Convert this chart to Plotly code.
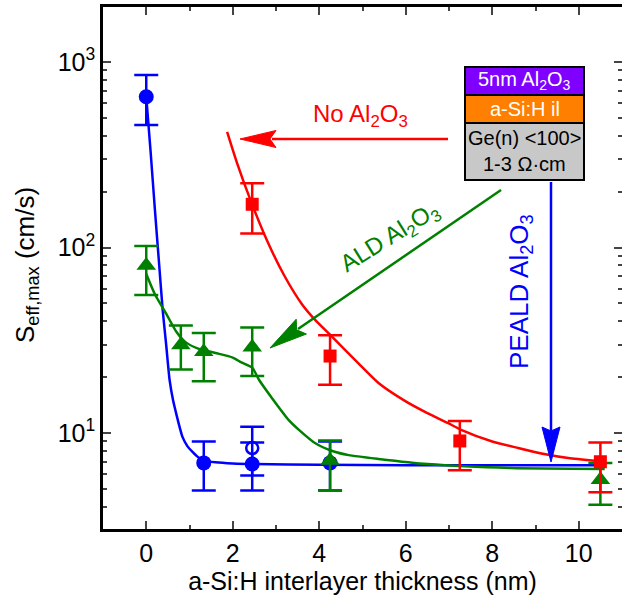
import plotly.graph_objects as go

# ---------------- data ----------------
# PEALD Al2O3 (blue circles)
peald_x = [0, 1.33, 2.45, 4.25]
peald_y = [650, 6.9, 6.8, 6.9]
peald_hi = [850, 9.0, 8.9, 9.0]
peald_lo = [457, 4.9, 4.9, 4.9]
# open circle
peald_open_x = [2.45]
peald_open_y = [8.3]
peald_open_hi = [10.8]
peald_open_lo = [5.9]

# ALD Al2O3 (green triangles)
ald_x = [0, 0.8, 1.33, 2.45, 4.25, 10.5]
ald_y = [80, 29.8, 27.4, 29, 7.1, 5.6]
ald_hi = [102, 38, 34.6, 37, 9.1, 6.9]
ald_lo = [55.5, 22, 19, 20.3, 4.9, 4.1]

# No Al2O3 (red squares)
no_x = [2.45, 4.25, 7.25, 10.5]
no_y = [171, 26, 9.06, 7.0]
no_hi = [222, 33.7, 11.6, 8.9]
no_lo = [119, 18.2, 6.3, 4.8]

# fit curves
peald_fit_x = [0, 0.1, 0.2, 0.3, 0.38, 0.46, 0.54, 0.62, 0.69, 0.77, 0.84, 0.95, 1.07, 1.2, 1.34, 1.6, 2.0, 2.5, 4.0, 6.0, 8.0, 10.5]
peald_fit_y = [650, 330, 160, 80, 46, 30, 19.3, 15, 12.8, 10.8, 9.5, 8.5, 7.9, 7.4, 7.1, 6.95, 6.85, 6.8, 6.75, 6.7, 6.7, 6.7]

ald_fit_x = [0, 0.2, 0.46, 0.7, 0.9, 1.2, 1.6, 2.0, 2.2, 2.45, 2.61, 2.9, 3.3, 3.53, 3.91, 4.3, 4.68, 5.37, 6.5, 8.43, 10.6]
ald_fit_y = [72, 56, 44, 35, 31, 28.5, 27, 25.5, 24, 22.5, 19.3, 15.5, 11.7, 10.4, 8.8, 8.0, 7.6, 7.25, 6.8, 6.47, 6.4]

no_fit_x = [1.87, 2.1, 2.43, 2.8, 3.2, 3.6, 3.91, 4.3, 4.9, 5.37, 6.0, 6.5, 6.98, 7.28, 8.0, 8.6, 9.2, 9.8, 10.6]
no_fit_y = [420, 285, 175, 108, 70, 49.5, 40.6, 33, 23.8, 18.6, 14.8, 12.8, 11.3, 10.4, 9.0, 8.3, 7.7, 7.3, 7.0]

x_tickvals = [0, 2, 4, 6, 8, 10]
y_tickvals = [10, 100, 1000]
y_ticktext = ["10<sup>1</sup>", "10<sup>2</sup>", "10<sup>3</sup>"]

BLUE = "#0000FF"
GREEN = "#008000"
RED = "#FF0000"
FONT = "Liberation Sans, Arial, sans-serif"

W, H = 622, 606
L, R, T, B = 103, 0, 7, 77
PW, PH = W - L - R, H - T - B


def px(x):
    return (x - L) / PW


def py(y):
    return (H - B - y) / PH


def err(y, hi, lo):
    return dict(type="data", symmetric=False,
                array=[h - v for h, v in zip(hi, y)],
                arrayminus=[v - l for v, l in zip(y, lo)])


fig = go.Figure()

fig.add_trace(go.Scatter(x=peald_fit_x, y=peald_fit_y, mode="lines",
                         line=dict(color=BLUE, width=2.5, shape="spline", smoothing=0.6),
                         showlegend=False, hoverinfo="skip"))
fig.add_trace(go.Scatter(x=ald_fit_x, y=ald_fit_y, mode="lines",
                         line=dict(color=GREEN, width=2.5, shape="spline", smoothing=0.6),
                         showlegend=False, hoverinfo="skip"))
fig.add_trace(go.Scatter(x=no_fit_x, y=no_fit_y, mode="lines",
                         line=dict(color=RED, width=2.5, shape="spline", smoothing=0.6),
                         showlegend=False, hoverinfo="skip"))

e = err(peald_open_y, peald_open_hi, peald_open_lo)
e.update(color=BLUE, thickness=2.5, width=12)
fig.add_trace(go.Scatter(x=peald_open_x, y=peald_open_y, mode="markers",
                         marker=dict(symbol="circle", size=12, color="white",
                                     line=dict(color=BLUE, width=2.5)),
                         error_y=e, showlegend=False))

e = err(peald_y, peald_hi, peald_lo)
e.update(color=BLUE, thickness=2.5, width=12)
fig.add_trace(go.Scatter(x=peald_x, y=peald_y, mode="markers",
                         marker=dict(symbol="circle", size=15, color=BLUE),
                         error_y=e, showlegend=False))

e = err(ald_y, ald_hi, ald_lo)
e.update(color=GREEN, thickness=2.5, width=12)
fig.add_trace(go.Scatter(x=ald_x, y=ald_y, mode="markers",
                         marker=dict(symbol="triangle-up", size=17, color=GREEN),
                         error_y=e, showlegend=False))

e = err(no_y, no_hi, no_lo)
e.update(color=RED, thickness=2.5, width=12)
fig.add_trace(go.Scatter(x=no_x, y=no_y, mode="markers",
                         marker=dict(symbol="square", size=13, color=RED),
                         error_y=e, showlegend=False))

shapes = []
annotations = []


def line_px(x0, y0, x1, y1, color, width=2.5):
    shapes.append(dict(type="line", xref="paper", yref="paper",
                       x0=px(x0), y0=py(y0), x1=px(x1), y1=py(y1),
                       line=dict(color=color, width=width)))


def poly_px(pts, color):
    d = "M " + " L ".join(f"{px(a):.5f} {py(b):.5f}" for a, b in pts) + " Z"
    shapes.append(dict(type="path", xref="paper", yref="paper", path=d,
                       fillcolor=color, line=dict(color=color, width=1)))


def text_px(x, y, text, color, size, angle=0):
    annotations.append(dict(xref="paper", yref="paper", x=px(x), y=py(y),
                            text=text, showarrow=False, textangle=angle,
                            xanchor="center", yanchor="middle",
                            font=dict(color=color, size=size, family=FONT)))


# red arrow
line_px(448, 139, 272, 139, RED)
poly_px([(240, 139), (276, 130.5), (270, 139), (276, 147.5)], RED)
# green arrow
line_px(501, 190, 298, 329, GREEN)
poly_px([(270, 348), (306.4, 334.0), (296.6, 329.8), (296.2, 319.2)], GREEN)
# blue arrow
line_px(551, 182, 551, 432, BLUE)
poly_px([(551, 462), (542, 427), (551, 431), (560, 427)], BLUE)

text_px(360, 116, "No Al<sub>2</sub>O<sub>3</sub>", RED, 24)
text_px(391, 238, "ALD Al<sub>2</sub>O<sub>3</sub>", GREEN, 24, -32)
text_px(521, 292, "PEALD Al<sub>2</sub>O<sub>3</sub>", BLUE, 26, -90)

# layer stack box
boxes = [(67, 95, "#7F00FF"), (95, 123, "#FF8000"), (123, 180, "#C8C8C8")]
for y0, y1, c in boxes:
    shapes.append(dict(type="rect", xref="paper", yref="paper",
                       x0=px(465), x1=px(584), y0=py(y1), y1=py(y0),
                       fillcolor=c, line=dict(color="black", width=2)))
text_px(524.5, 81, "5nm Al<sub>2</sub>O<sub>3</sub>", "white", 20)
text_px(524.5, 109, "a-Si:H il", "white", 20)
text_px(524.5, 138, "Ge(n) &lt;100&gt;", "black", 20)
text_px(524.5, 164, "1-3 Ω·cm", "black", 20)

# y title
text_px(26, 265, "S<sub>eff,max</sub> (cm/s)", "black", 26, -90)

fig.update_layout(
    width=W, height=H, autosize=False,
    margin=dict(l=L, r=R, t=T, b=B, pad=0),
    paper_bgcolor="white", plot_bgcolor="white",
    font=dict(family=FONT, size=25, color="black"),
    shapes=shapes, annotations=annotations,
    showlegend=False,
)
fig.update_xaxes(range=[-1, 11], tickvals=x_tickvals, ticks="inside", ticklen=8, tickwidth=2,
                 showline=True, linecolor="black", linewidth=2.5, mirror="ticks",
                 showgrid=False, zeroline=False, automargin=False,
                 minor=dict(ticks="inside", ticklen=4, tickwidth=2, dtick=1, showgrid=False),
                 title=dict(text="a-Si:H interlayer thickness (nm)", font=dict(size=25), standoff=6),
                 tickfont=dict(size=25))
fig.update_yaxes(type="log", range=[0.4825, 3.2965], tickvals=y_tickvals, ticktext=y_ticktext,
                 ticks="inside", ticklen=8, tickwidth=2,
                 showline=True, linecolor="black", linewidth=2.5, mirror="ticks",
                 showgrid=False, zeroline=False, automargin=False,
                 minor=dict(ticks="inside", ticklen=4, tickwidth=2, dtick="D1", showgrid=False),
                 tickfont=dict(size=25))

fig.write_html("out.html", config={"displayModeBar": False},
               post_script="document.body.style.margin='0';document.body.style.padding='0';")
